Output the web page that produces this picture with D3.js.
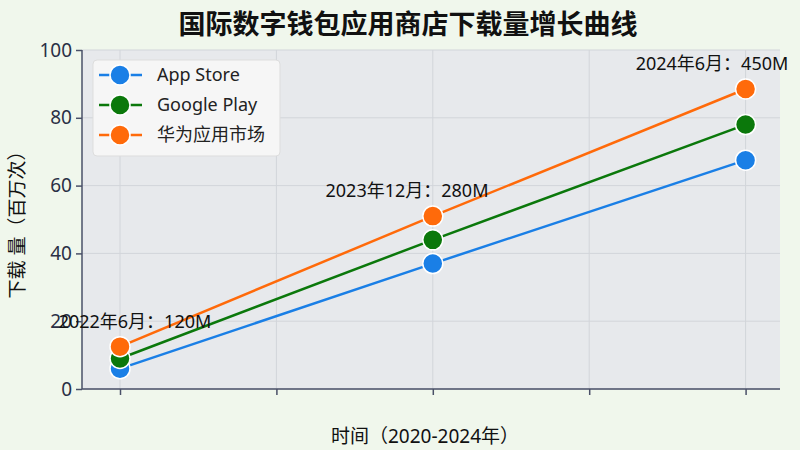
<!DOCTYPE html><html><head><meta charset="utf-8"><script src="https://cdn.jsdelivr.net/npm/d3@7"></script>
<style>body{margin:0;background:#f0f7ec}text{font-family:"Noto Sans","Noto Sans CJK SC",sans-serif}</style></head><body><svg id="c" width="800" height="450"></svg>
<script>
const xIdx=[0,2,4];
const xTicks=[0,1,2,3,4];
const yTicks=[0,20,40,60,80,100];
const series=["App Store","Google Play","华为应用市场"];
const appStore=[6,37,67.5];
const googlePlay=[9,44,78];
const huawei=[12.5,51,88.5];
const labels=["2022年6月：120M","2023年12月：280M","2024年6月：450M"];
const colors=["#1a7fe6","#0b780b","#ff6a0a"];
const vals=[appStore,googlePlay,huawei];
const svg=d3.select("#c");
const L=82,R=780,T=50,B=389;
const x=d3.scaleLinear().domain([-0.243,4.22]).range([L,R]);
const y=d3.scaleLinear().domain([0,100]).range([B,T]);
svg.append("rect").attr("x",L).attr("y",T).attr("width",R-L).attr("height",B-T).attr("fill","#e7e9ec");
svg.append("g").selectAll("line").data(yTicks).join("line").attr("x1",L).attr("x2",R).attr("y1",d=>y(d)).attr("y2",d=>y(d)).attr("stroke","#d2d5da");
svg.append("g").selectAll("line").data(xTicks).join("line").attr("y1",T).attr("y2",B).attr("x1",d=>x(d)).attr("x2",d=>x(d)).attr("stroke","#d2d5da");
const ya=svg.append("g").attr("transform",`translate(${L},0)`).call(d3.axisLeft(y).tickValues(yTicks).tickSize(6).tickPadding(4));
ya.selectAll("text").attr("font-size",19).attr("fill","#2a2f45");
const xa=svg.append("g").attr("transform",`translate(0,${B})`).call(d3.axisBottom(x).tickValues(xTicks).tickFormat("").tickSize(6));
[ya,xa].forEach(a=>{a.selectAll("path,line").attr("stroke","#4a5068").attr("stroke-width",1.5)});
xa.select("path").attr("d",`M${L},0H${R}`);ya.select("path").attr("d",`M0,${B}V${T}`);
const line=d3.line().x((d,i)=>x(xIdx[i])).y(d=>y(d));
vals.forEach((v,k)=>{
 svg.append("path").datum(v).attr("d",line).attr("fill","none").attr("stroke",colors[k]).attr("stroke-width",2.5);
});
vals.forEach((v,k)=>{
 svg.append("g").selectAll("circle").data(v).join("circle").attr("cx",(d,i)=>x(xIdx[i])).attr("cy",d=>y(d)).attr("r",10).attr("fill",colors[k]).attr("stroke","#fff").attr("stroke-width",1.5);
});
const lp=[[135,328],[407,197],[712,70]];
labels.forEach((t,i)=>svg.append("text").attr("x",lp[i][0]).attr("y",lp[i][1]).attr("text-anchor","middle").attr("font-size",18).attr("fill","#111").text(t));
const lg=svg.append("g");
lg.append("rect").attr("x",93).attr("y",60).attr("width",187).attr("height",96).attr("rx",4).attr("fill","#f6f6f6").attr("stroke","#ddd");
series.forEach((s,i)=>{const yy=75+i*30;
 lg.append("line").attr("x1",99).attr("x2",142).attr("y1",yy).attr("y2",yy).attr("stroke",colors[i]).attr("stroke-width",2.5);
 lg.append("circle").attr("cx",120).attr("cy",yy).attr("r",10).attr("fill",colors[i]).attr("stroke","#fff").attr("stroke-width",1.5);
 lg.append("text").attr("x",157).attr("y",yy+6).attr("font-size",18).attr("fill","#222").text(s);
});
svg.append("text").attr("x",408).attr("y",34).attr("text-anchor","middle").attr("font-size",27).attr("font-weight","bold").attr("fill","#111").text("国际数字钱包应用商店下载量增长曲线");
svg.append("text").attr("x",425).attr("y",443).attr("text-anchor","middle").attr("font-size",19).attr("fill","#111").text("时间（2020-2024年）");
svg.append("text").attr("transform","translate(24,220) rotate(-90)").attr("text-anchor","middle").attr("font-size",19).attr("fill","#111").text("下载 量（百万次）");
</script></body></html>
